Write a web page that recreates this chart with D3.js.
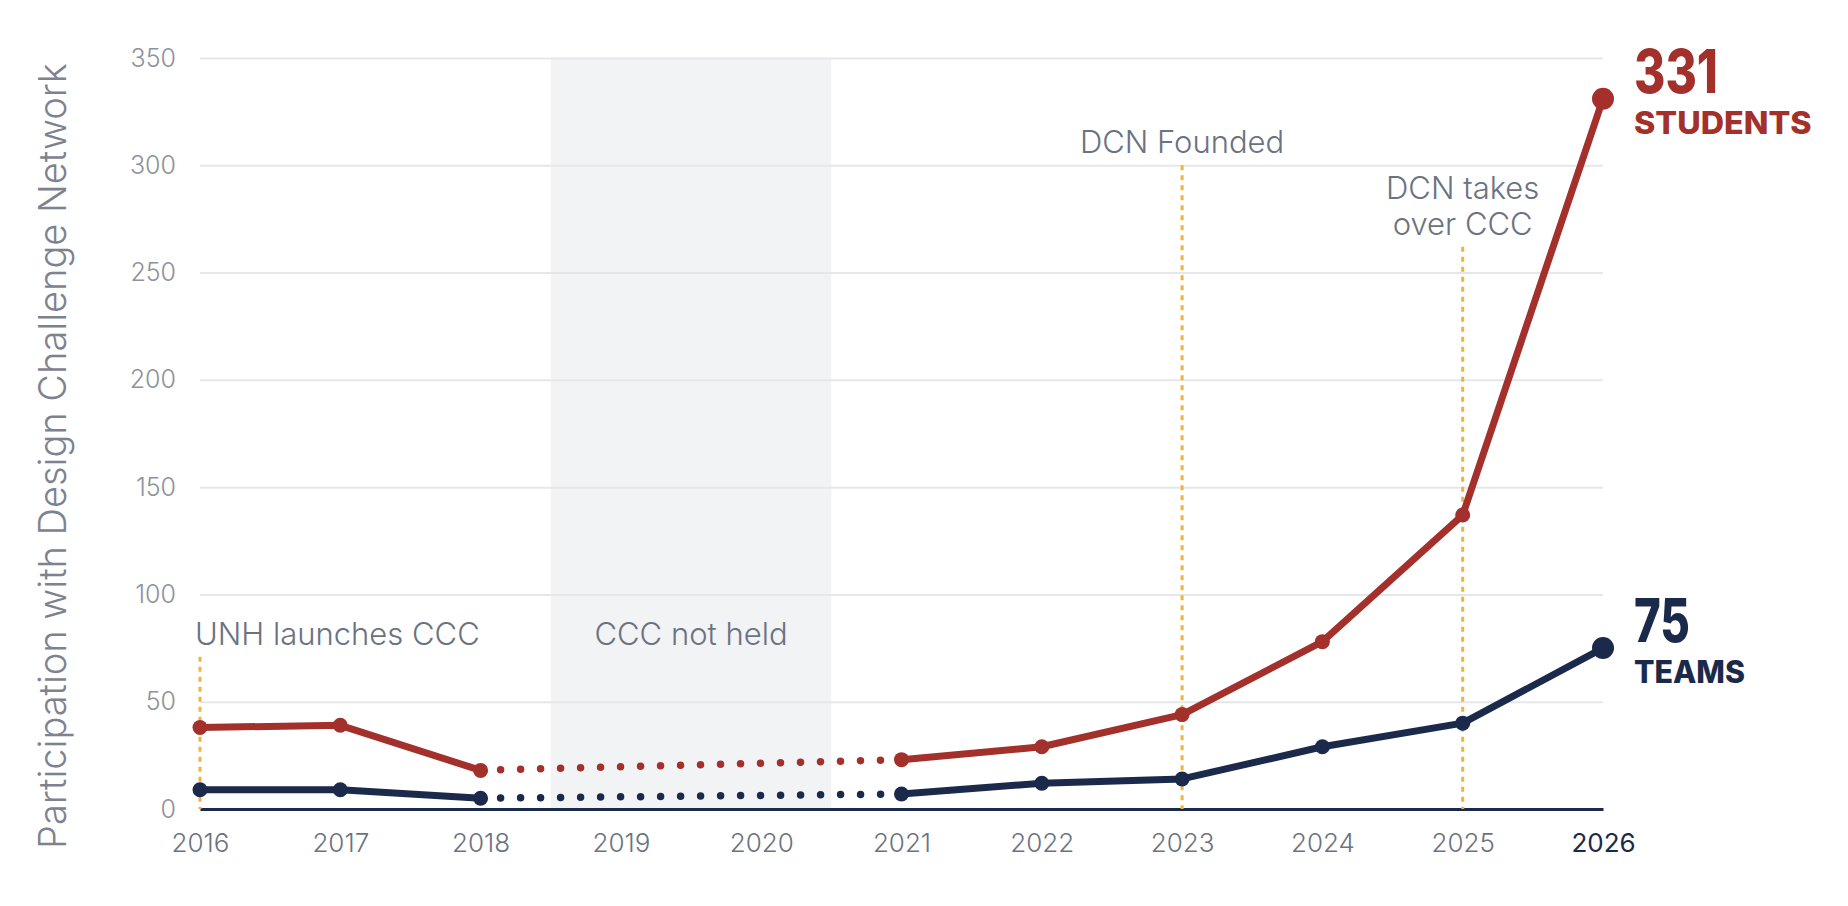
<!DOCTYPE html>
<html lang="en">
<head>
<meta charset="utf-8">
<title>Participation with Design Challenge Network</title>
<script src="https://d3js.org/d3.v7.min.js"></script>
<style>
    html, body { margin: 0; padding: 0; background: #fff; }
    #chart1 { width: 1848px; height: 906px; }
    text { font-family: Inter, "Noto Sans", sans-serif; }
</style>
</head>
<body>
<div id="chart1"></div>
<script>

// data
const years    = [2016, 2017, 2018, 2021, 2022, 2023, 2024, 2025, 2026]
const students = [38, 39, 18, 23, 29, 44, 78, 137, 331]
const teams    = [9, 9, 5, 7, 12, 14, 29, 40, 75]
const gapYears = [2018, 2021]          // dotted stretch, no event held
const shadeYears = [2018.5, 2020.5]
const yTicks = [0, 50, 100, 150, 200, 250, 300, 350]
const xTicks = d3.range(2016, 2027)

// milestone markers (top = value where the dotted line starts)
const notes = [
    {year: 2016, top: 71, lines: ["UNH launches CCC"], anchor: "start"},
    {year: 2023, top: 300, lines: ["DCN Founded"], anchor: "middle"},
    {year: 2025, top: 262, lines: ["DCN takes", "over CCC"], anchor: "middle"}
]

const RED = "#a3302b", NAVY = "#1b2a4a", GOLD = "#f0b43c"

const W = 1848, H = 906
const margin = {top: 58, right: 245, bottom: 97, left: 200}

const svg = d3.select("#chart1").append("svg")
    .attr("width", W)
    .attr("height", H)

const x = d3.scaleLinear()
    .domain([2016, 2026])
    .range([margin.left, W - margin.right])

const y = d3.scaleLinear()
    .domain([0, 350])
    .range([H - margin.bottom, margin.top])

// shaded "not held" band
svg.append("rect")
    .attr("x", x(shadeYears[0]))
    .attr("y", y(350))
    .attr("width", x(shadeYears[1]) - x(shadeYears[0]))
    .attr("height", y(0) - y(350))
    .attr("fill", "#f2f3f5")

// gridlines + y labels
const yAxis = svg.append("g")
    .attr("transform", "translate(" + x(2016) + ",0)")
    .call(d3.axisLeft(y)
        .tickValues(yTicks)
        .tickSize(-(x(2026) - x(2016)))
        .tickPadding(24))
yAxis.select(".domain").remove()
yAxis.selectAll(".tick line").attr("stroke", "#e6e7eb").attr("stroke-width", 2)
yAxis.selectAll(".tick text")
    .attr("fill", "#8d929c")
    .style("font-size", "25px")
    .style("font-weight", 300)

// x axis
const xAxis = svg.append("g")
    .attr("transform", "translate(0," + y(0) + ")")
    .call(d3.axisBottom(x)
        .tickValues(xTicks)
        .tickFormat(d3.format("d"))
        .tickSize(0)
        .tickPadding(25))
xAxis.select(".domain").attr("stroke", NAVY).attr("stroke-width", 3)
xAxis.selectAll(".tick text")
    .attr("fill", d => d === 2026 ? NAVY : "#6b7280")
    .style("font-size", "26px")
    .style("font-weight", d => d === 2026 ? 400 : 300)

// y title
svg.append("text")
    .attr("transform", "translate(66,456) rotate(-90)")
    .attr("text-anchor", "middle")
    .attr("fill", "#7d838e")
    .style("font-size", "38px")
    .style("font-weight", 300)
    .text("Participation with Design Challenge Network")

// milestone lines and labels
notes.forEach(n => {
    svg.append("line")
        .attr("x1", x(n.year)).attr("x2", x(n.year))
        .attr("y1", y(n.top)).attr("y2", y(0))
        .attr("stroke", GOLD)
        .attr("stroke-width", 3)
        .attr("stroke-dasharray", "5 5")
    const t = svg.append("text")
        .attr("text-anchor", n.anchor)
        .attr("fill", "#6b7280")
        .style("font-size", "31px")
        .style("font-weight", 300)
    const lastBase = y(n.top) - 12
    n.lines.forEach((l, i) => {
        t.append("tspan")
            .attr("x", x(n.year) + (n.anchor === "start" ? -5 : 0))
            .attr("y", lastBase - (n.lines.length - 1 - i) * 36)
            .text(l)
    })
})

svg.append("text")
    .attr("x", x((shadeYears[0] + shadeYears[1]) / 2))
    .attr("y", y(71) - 12)
    .attr("text-anchor", "middle")
    .attr("fill", "#6b7280")
    .style("font-size", "31px")
    .style("font-weight", 300)
    .text("CCC not held")

// series
const series = [
    {name: "STUDENTS", values: students, color: RED},
    {name: "TEAMS", values: teams, color: NAVY}
]

const line = d3.line()
    .x(d => x(d.year))
    .y(d => y(d.value))

series.forEach(s => {
    const pts = years.map((yr, i) => ({year: yr, value: s.values[i]}))
    const before = pts.filter(d => d.year <= gapYears[0])
    const gap = pts.filter(d => d.year >= gapYears[0] && d.year <= gapYears[1])
    const after = pts.filter(d => d.year >= gapYears[1])

    svg.append("path")
        .datum(gap)
        .attr("d", line)
        .attr("fill", "none")
        .attr("stroke", s.color)
        .attr("stroke-width", 7.5)
        .attr("stroke-linecap", "round")
        .attr("stroke-dasharray", "0 20")

    ;[before, after].forEach(seg => {
        svg.append("path")
            .datum(seg)
            .attr("d", line)
            .attr("fill", "none")
            .attr("stroke", s.color)
            .attr("stroke-width", 7)
            .attr("stroke-linejoin", "round")
    })

    svg.selectAll(null)
        .data(pts)
        .enter()
        .append("circle")
        .attr("cx", d => x(d.year))
        .attr("cy", d => y(d.value))
        .attr("r", (d, i) => i === pts.length - 1 ? 11 : 7.5)
        .attr("fill", s.color)

    // end label: big number + name, squeezed to the width of the bold original face
    const last = pts[pts.length - 1]
    const num = String(last.value)
    svg.append("text")
        .attr("x", x(last.year) + 31)
        .attr("y", y(last.value) - 6)
        .attr("fill", s.color)
        .attr("textLength", num.length * 28)
        .attr("lengthAdjust", "spacingAndGlyphs")
        .style("font-size", "60px")
        .style("font-weight", 800)
        .text(num)
    svg.append("text")
        .attr("x", x(last.year) + 31)
        .attr("y", y(last.value) + 35)
        .attr("fill", s.color)
        .attr("textLength", s.name.length * 22.2)
        .attr("lengthAdjust", "spacingAndGlyphs")
        .style("font-size", "31px")
        .style("font-weight", 800)
        .text(s.name)
})

</script>
</body>
</html>
